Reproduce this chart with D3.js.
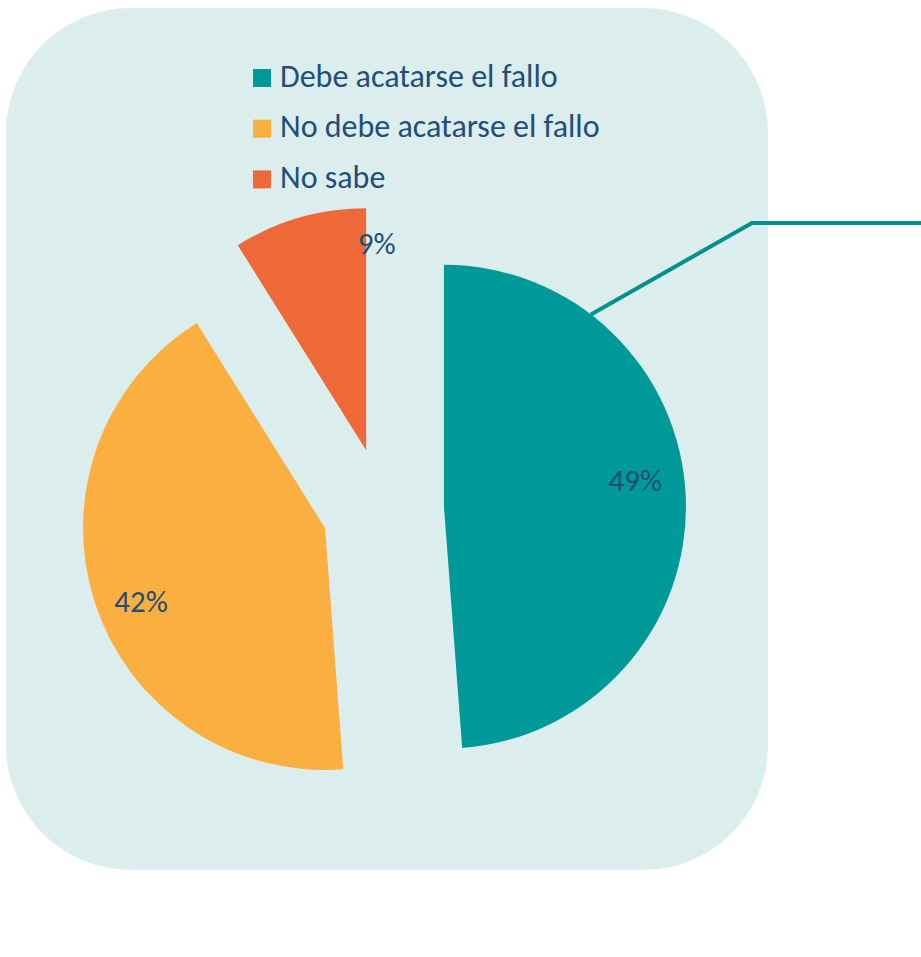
<!DOCTYPE html>
<html>
<head>
<meta charset="utf-8">
<style>
body { margin: 0; background: #fff; }
text { font-family: Carlito, Lato, "Open Sans", sans-serif; fill: #1F4E79; }
</style>
</head>
<body>
<svg width="921" height="957"></svg>
<script src="https://cdn.jsdelivr.net/npm/d3@7"></script>
<script>
var categories = ["Debe acatarse el fallo", "No debe acatarse el fallo", "No sabe"];
var values = [48.8, 42.3, 8.9];
var labels = ["49%", "42%", "9%"];
var colors = ["#009999", "#FBAF41", "#EE6937"];

var svg = d3.select("svg"),
    width = +svg.attr("width"),
    height = +svg.attr("height");

// panel behind the chart
svg.append("rect")
    .attr("x", 6).attr("y", 8)
    .attr("width", 762).attr("height", 862)
    .attr("rx", 125).attr("ry", 125)
    .attr("fill", "#DBEEED");

var cx = 383, cy = 509, radius = 242, explode = 61;

var pie = d3.pie().sort(null).value(function(d) { return d; });
var arcs = pie(values);

var arc = d3.arc().innerRadius(0).outerRadius(radius);
var labelArc = d3.arc().innerRadius(radius * 0.8).outerRadius(radius * 0.8);

// excel "best fit" put the labels a bit off the centroid
var nudge = [[-2, -19], [0, 13], [64, -21]];

function offset(d) {
  var a = (d.startAngle + d.endAngle) / 2;
  return [cx + explode * Math.sin(a), cy - explode * Math.cos(a)];
}

var slices = svg.append("g").selectAll("g")
    .data(arcs)
    .enter().append("g")
      .attr("transform", function(d) { var o = offset(d); return "translate(" + o[0] + "," + o[1] + ")"; });

slices.append("path")
    .attr("d", arc)
    .attr("fill", function(d, i) { return colors[i]; });

// leader line out of the big slice
var t = arcs[0], lineAngle = 37.4 * Math.PI / 180, o0 = offset(t);
svg.append("polyline")
    .attr("points", [
        [o0[0] + radius * Math.sin(lineAngle), o0[1] - radius * Math.cos(lineAngle)],
        [752, 223], [width, 223]
      ].map(function(p) { return p.join(","); }).join(" "))
    .attr("fill", "none")
    .attr("stroke", "#00918F")
    .attr("stroke-width", 4);

slices.append("text")
    .attr("transform", function(d, i) {
      var c = labelArc.centroid(d);
      return "translate(" + (c[0] + nudge[i][0]) + "," + (c[1] + nudge[i][1]) + ")";
    })
    .attr("text-anchor", "middle")
    .attr("dy", "0.35em")
    .style("font-size", "31px")
    .text(function(d, i) { return labels[i]; });

// legend
var legend = svg.append("g").selectAll("g")
    .data(categories)
    .enter().append("g")
      .attr("transform", function(d, i) { return "translate(253," + (69 + i * 50.7) + ")"; });

legend.append("rect")
    .attr("width", 18).attr("height", 18)
    .attr("fill", function(d, i) { return colors[i]; });

legend.append("text")
    .attr("x", 27).attr("y", 17.5)
    .style("font-size", "32px")
    .text(function(d) { return d; });
</script>
</body>
</html>
